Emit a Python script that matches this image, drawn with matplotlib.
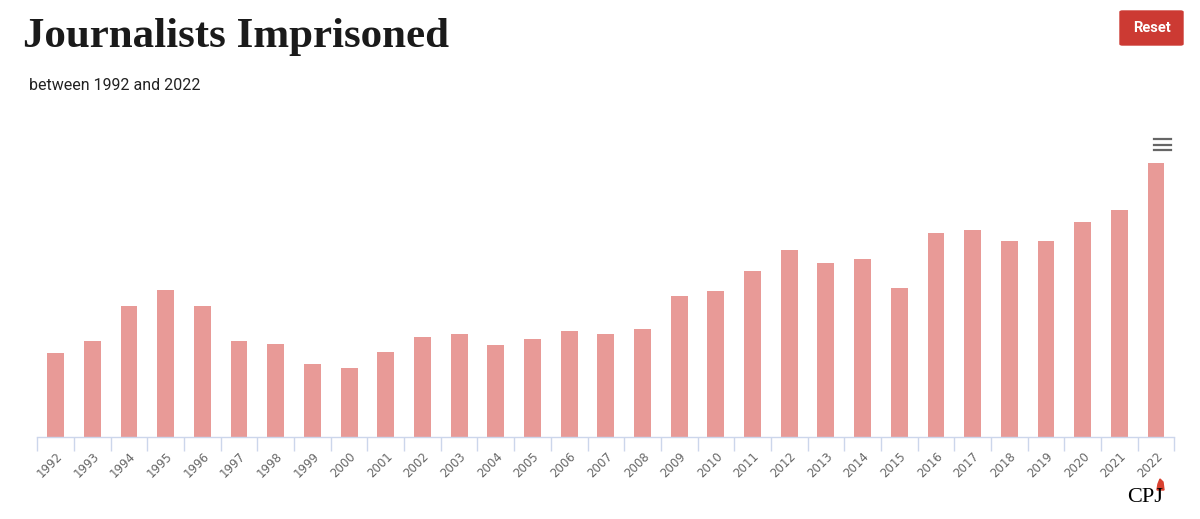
import numpy as np
import matplotlib.pyplot as plt
from matplotlib.patches import Rectangle, FancyBboxPatch, Polygon
from matplotlib.lines import Line2D

# Datos: periodistas encarcelados por año
years = [str(y) for y in range(1992, 2023)]
imprisoned = [114, 129, 177, 198, 177, 129, 126, 99, 93, 115,
              135, 139, 124, 132, 143, 139, 146, 190, 197, 224,
              252, 235, 240, 201, 276, 279, 265, 265, 291, 307, 370]

W, H = 1200, 519
fig = plt.figure(figsize=(W / 100, H / 100), dpi=100)

# Área del gráfico en píxeles
left_px, right_px = 37.3, 1174.4
top_px, base_px = 150, 437
ax = fig.add_axes([left_px / W, 1 - base_px / H,
                   (right_px - left_px) / W, (base_px - top_px) / H])

x = np.arange(len(years))
ax.bar(x, imprisoned, width=0.46, color='#e89a97')

ax.set_xlim(-0.5, len(years) - 0.5)
ax.set_ylim(0, 370 * (base_px - top_px) / (base_px - 163))

for s in ['top', 'right', 'left']:
    ax.spines[s].set_visible(False)
ax.spines['bottom'].set_color('#ccd6eb')
ax.spines['bottom'].set_linewidth(1)
ax.set_yticks([])

ax.set_xticks(x)
ax.set_xticklabels(years, rotation=45, ha='right', va='top',
                   rotation_mode='anchor', fontsize=8.5, color='#666666')
ax.tick_params(axis='x', which='major', length=0, pad=9)
ax.set_xticks(np.arange(-0.5, len(years), 1), minor=True)
ax.tick_params(axis='x', which='minor', length=10, color='#ccd6eb', width=1)

# Título y subtítulo
fig.text(23 / W, 1 - 47 / H, 'Journalists Imprisoned', family='Liberation Serif',
         fontsize=31, fontweight='bold', color='#1a1a1a', va='baseline')
fig.text(29 / W, 1 - 90 / H, 'between 1992 and 2022', family='Roboto',
         fontsize=11.5, color='#222222', va='baseline')

# Botón "Reset"
fig.patches.append(FancyBboxPatch((1120 / W, 1 - 45 / H), 63 / W, 34 / H,
                                  boxstyle='round,pad=0,rounding_size=0.002',
                                  transform=fig.transFigure, color='#cc3a33'))
fig.text(1151.5 / W, 1 - 28 / H, 'Reset', family='Roboto', fontsize=10.5,
         fontweight='bold', color='white', ha='center', va='center')

# Icono de menú
for yy in [139, 144.5, 150]:
    fig.add_artist(Line2D([1154 / W, 1171 / W], [1 - yy / H, 1 - yy / H],
                          transform=fig.transFigure, color='#666666', lw=1.6))

# Logo CPJ
fig.text(1145 / W, 1 - 502 / H, 'CPJ', family='Liberation Serif', fontsize=16,
         color='black', ha='center', va='baseline')
fig.patches.append(Polygon([(1157 / W, 1 - 490 / H), (1164 / W, 1 - 490 / H),
                            (1163 / W, 1 - 482 / H), (1160 / W, 1 - 479 / H),
                            (1158 / W, 1 - 484 / H)],
                           transform=fig.transFigure, color='#d9412f'))

fig.savefig('out.png', dpi=100)
